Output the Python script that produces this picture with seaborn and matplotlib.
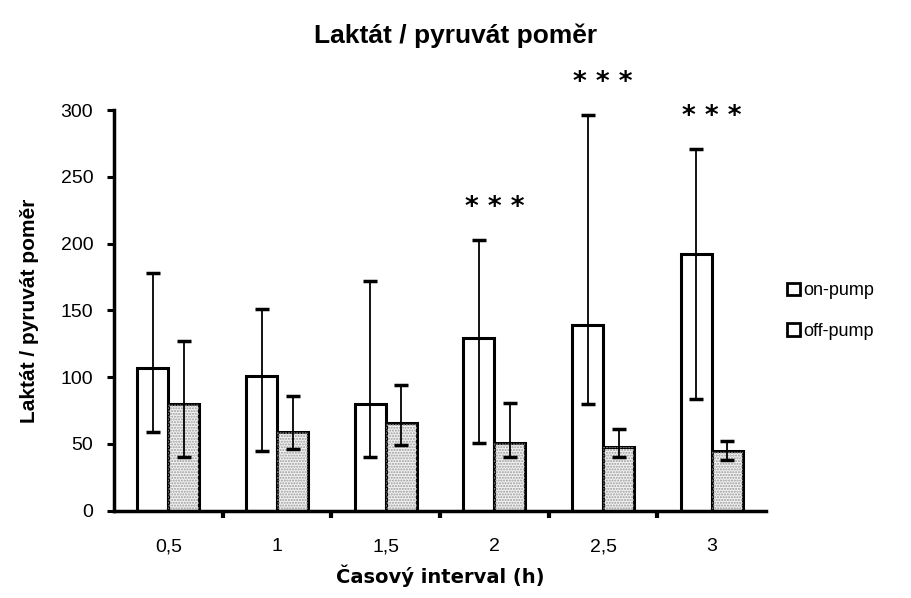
import matplotlib
matplotlib.use("Agg")
import matplotlib.pyplot as plt
from matplotlib.patches import Patch, Rectangle
import seaborn as sns
import pandas as pd
import numpy as np

# ---- data ----
categories = ["0,5", "1", "1,5", "2", "2,5", "3"]
on_pump = [107, 101, 80, 129, 139, 192]
on_upper = [178, 151, 172, 203, 296, 271]
on_lower = [59, 45, 40, 51, 80, 84]
off_pump = [80, 59, 66, 51, 48, 45]
off_upper = [127, 86, 94, 81, 61, 52]
off_lower = [40, 46, 49, 40, 40, 38]
significance = ["", "", "", "***", "***", "***"]
series_names = ["on-pump", "off-pump"]

df = pd.DataFrame({
    "interval": categories * 2,
    "value": on_pump + off_pump,
    "group": [series_names[0]] * len(categories) + [series_names[1]] * len(categories),
})

sns.set_theme(style="white")
plt.rcParams["font.family"] = ["Liberation Sans", "DejaVu Sans"]
plt.rcParams["text.color"] = "black"
plt.rcParams["xtick.color"] = "black"
plt.rcParams["ytick.color"] = "black"
plt.rcParams["axes.labelcolor"] = "black"

fig = plt.figure(figsize=(9.12, 5.98), dpi=100)
ax = fig.add_axes([0.125, 0.146, 0.715, 0.67])

sns.barplot(data=df, x="interval", y="value", hue="group", order=categories,
            hue_order=series_names, palette=["white", "#f2f2f2"], width=0.57,
            gap=0, errorbar=None, edgecolor="black", linewidth=2.2,
            legend=False, ax=ax)

# stipple on off-pump bars
for p in ax.containers[1]:
    ax.add_patch(Rectangle(p.get_xy(), p.get_width(), p.get_height(),
                           facecolor="none", edgecolor="#9a9a9a", hatch="......",
                           linewidth=0, zorder=p.get_zorder() + 0.1))

# error bars (asymmetric)
for cont, mean, lo, hi in [(ax.containers[0], on_pump, on_lower, on_upper),
                            (ax.containers[1], off_pump, off_lower, off_upper)]:
    xs = [p.get_x() + p.get_width() / 2 for p in cont]
    m = np.array(mean)
    yerr = np.vstack([m - np.array(lo), np.array(hi) - m])
    ax.errorbar(xs, m, yerr=yerr, fmt="none", ecolor="black", elinewidth=1.3,
                capsize=5, capthick=2.5, zorder=5)

# significance markers
for i, s in enumerate(significance):
    if s:
        ax.text(i, on_upper[i] + 24, "* * *", ha="center", va="center",
                fontsize=19, fontweight="bold", family="DejaVu Sans", color="black")

ax.set_ylim(0, 300)
ax.set_xlim(-0.5, len(categories) - 0.5)
ax.set_yticks([0, 50, 100, 150, 200, 250, 300])
ax.tick_params(axis="y", which="major", direction="out", length=5, width=2.2,
               labelsize=14, pad=10, left=True)
ax.tick_params(axis="x", which="major", length=0, labelsize=14, pad=20)
ax.set_xticks(np.arange(0.5, len(categories) - 0.5), minor=True)
ax.tick_params(axis="x", which="minor", direction="out", length=5, width=3,
               bottom=True)

for side in ["top", "right"]:
    ax.spines[side].set_visible(False)
for side in ["left", "bottom"]:
    ax.spines[side].set_color("black")
    ax.spines[side].set_linewidth(2.5)

ax.set_xlabel("Časový interval (h)", fontsize=14, fontweight="bold",
              family="DejaVu Sans")
ax.xaxis.set_label_coords(0.5, -0.135)
ax.set_ylabel("Laktát / pyruvát poměr", fontsize=15, fontweight="bold")
ax.yaxis.set_label_coords(-0.115, 0.5)
fig.text(0.5, 0.94, "Laktát / pyruvát poměr", ha="center", va="center",
         fontsize=19, fontweight="bold")

handles = [Patch(facecolor="white", edgecolor="black", linewidth=2, label=series_names[0]),
           Patch(facecolor="white", edgecolor="black", linewidth=2, label=series_names[1])]
fig.legend(handles=handles, loc="center left", bbox_to_anchor=(0.845, 0.48),
           frameon=False, fontsize=13, handlelength=0.7, handleheight=0.7,
           handletextpad=0.2, labelspacing=1.3)

fig.savefig("out.png", dpi=100, facecolor="white")
